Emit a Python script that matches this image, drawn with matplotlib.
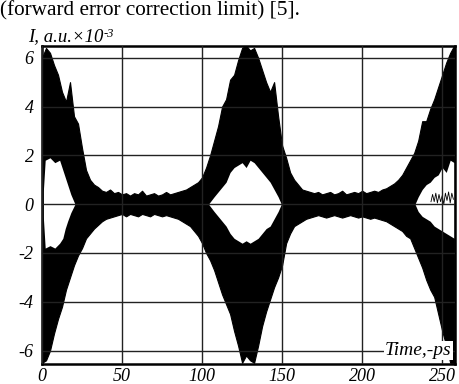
import matplotlib
matplotlib.use("Agg")
import matplotlib.pyplot as plt

plt.rcParams['axes.unicode_minus'] = False

time_ps = [0, 2.5, 5, 7.5, 10, 12.5, 15, 17.5, 20, 22.5, 25, 27.5, 30, 32.5, 35, 37.5,
           40, 42.5, 45, 47.5, 50, 52.5, 55, 57.5, 60, 62.5, 65, 67.5, 70, 72.5, 75, 77.5,
           80, 82.5, 85, 87.5, 90, 92.5, 95, 97.5, 100, 102.5, 105, 107.5, 110, 112.5, 115, 117.5,
           120, 122.5, 125, 127.5, 130, 132.5, 135, 137.5, 140, 142.5, 145, 147.5, 150, 152.5, 155, 157.5,
           160, 162.5, 165, 167.5, 170, 172.5, 175, 177.5, 180, 182.5, 185, 187.5, 190, 192.5, 195, 197.5,
           200, 202.5, 205, 207.5, 210, 212.5, 215, 217.5, 220, 222.5, 225, 227.5, 230, 232.5, 235, 237.5,
           240, 242.5, 245, 247.5, 250, 252.5, 255, 257.5]

upper_env = [6.0, 6.4, 6.2, 5.7, 5.3, 4.6, 4.2, 5.0, 3.6, 3.3, 2.3, 1.4, 1.0, 0.8, 0.7, 0.55,
             0.5, 0.6, 0.45, 0.5, 0.4, 0.45, 0.35, 0.45, 0.4, 0.55, 0.35, 0.4, 0.45, 0.35, 0.4, 0.5,
             0.4, 0.45, 0.5, 0.55, 0.6, 0.7, 0.8, 0.9, 1.1, 1.5, 2.0, 2.6, 3.2, 4.0, 4.3, 5.1,
             5.3, 5.9, 6.4, 6.5, 6.3, 6.4, 6.0, 5.5, 5.0, 4.6, 5.0, 3.6, 2.4, 1.9, 1.3, 1.0,
             0.8, 0.6, 0.55, 0.5, 0.45, 0.5, 0.4, 0.45, 0.5, 0.4, 0.45, 0.55, 0.4, 0.45, 0.5, 0.45,
             0.55, 0.45, 0.5, 0.55, 0.5, 0.6, 0.65, 0.75, 0.85, 1.0, 1.2, 1.5, 1.8, 2.1, 2.6, 3.4,
             3.4, 3.9, 4.3, 4.8, 5.3, 5.8, 6.2, 6.5]

lower_env = [-6.5, -6.4, -6.0, -5.3, -4.7, -4.2, -3.5, -3.0, -2.5, -2.1, -1.8, -1.4, -1.2, -1.0, -0.85, -0.7,
             -0.6, -0.55, -0.5, -0.45, -0.4, -0.5, -0.4, -0.45, -0.5, -0.4, -0.45, -0.5, -0.4, -0.45, -0.5, -0.45,
             -0.5, -0.55, -0.6, -0.7, -0.8, -0.9, -1.1, -1.3, -1.6, -2.0, -2.3, -2.7, -3.2, -3.7, -4.1, -4.5,
             -5.2, -5.8, -6.5, -6.2, -6.4, -6.5, -5.8, -5.0, -4.4, -3.9, -3.4, -3.0, -2.5, -1.6, -1.2, -0.9,
             -0.8, -0.7, -0.6, -0.55, -0.5, -0.45, -0.5, -0.55, -0.5, -0.45, -0.5, -0.55, -0.5, -0.45, -0.5, -0.55,
             -0.5, -0.55, -0.6, -0.55, -0.6, -0.65, -0.7, -0.8, -0.9, -1.0, -1.1, -1.3, -1.4, -1.8, -2.2, -2.6,
             -3.1, -3.5, -3.8, -4.5, -5.2, -5.8, -6.5, -6.5]

# open (white) regions between the two crossing bands
hole1_t = [0.8, 2, 5, 8, 11, 13, 14.5, 16, 18, 20.6]
hole1_top = [0.5, 1.8, 1.9, 1.7, 1.8, 1.4, 1.1, 0.8, 0.4, 0.0]
hole1_bot = [-0.5, -1.8, -1.7, -1.8, -1.6, -1.4, -1.0, -0.7, -0.35, 0.0]

hole2_t = [104, 107.5, 110, 112.5, 115, 117.5, 120, 122.5, 125, 127.5, 130, 132.5, 135, 137.5, 140, 142.5, 145, 147.5, 149.5]
hole2_top = [0, 0.3, 0.5, 0.7, 0.9, 1.3, 1.5, 1.6, 1.7, 1.5, 1.8, 1.7, 1.5, 1.3, 1.1, 0.9, 0.6, 0.3, 0]
hole2_bot = [0, -0.3, -0.5, -0.7, -0.9, -1.2, -1.4, -1.5, -1.6, -1.5, -1.6, -1.5, -1.4, -1.2, -1.0, -0.9, -0.6, -0.3, 0]

hole3_t = [233, 235, 237.5, 240, 242.5, 245, 247.5, 250, 252.5, 255, 257.5]
hole3_top = [0, 0.3, 0.6, 0.8, 0.9, 1.1, 1.2, 1.5, 1.3, 1.8, 1.7]
hole3_bot = [0, -0.3, -0.5, -0.6, -0.7, -0.9, -1.0, -1.1, -1.2, -1.3, -1.4]

# small residual ripple visible inside the right opening
ripple_t = [243, 244, 245, 246, 247, 248, 249, 250, 251, 252, 253, 254, 255, 256, 257]
ripple_v = [0.1, 0.4, 0.1, 0.45, 0.05, 0.4, 0.1, 0.35, 0.0, 0.45, 0.15, 0.5, 0.05, 0.45, 0.2]

x_ticks = [0, 50, 100, 150, 200, 250]
y_ticks = [-6, -4, -2, 0, 2, 4, 6]

fig = plt.figure(figsize=(4.6, 3.84), dpi=100)
ax = fig.add_axes([42 / 460, 1 - 364 / 384, 413 / 460, 318 / 384])

ax.fill_between(time_ps, lower_env, upper_env, color='black', lw=0.8)
for ht, htop, hbot in [(hole1_t, hole1_top, hole1_bot),
                       (hole2_t, hole2_top, hole2_bot),
                       (hole3_t, hole3_top, hole3_bot)]:
    ax.fill_between(ht, hbot, htop, color='white', lw=0)
ax.plot(ripple_t, ripple_v, color='black', lw=0.6)

ax.set_xlim(0, 258)
ax.set_ylim(-6.55, 6.48)
ax.set_xticks(x_ticks)
ax.set_yticks(y_ticks)
ax.set_axisbelow(False)
ax.grid(True, color='#222222', lw=1.0)

tick_font = dict(family='Liberation Serif', style='italic', size=13)
ax.set_xticklabels([str(v) for v in x_ticks], **tick_font)
ax.set_yticklabels([str(v) for v in y_ticks], **tick_font)
ax.tick_params(axis='x', length=0, pad=3)
ax.tick_params(axis='y', length=0, pad=6)
for s in ax.spines.values():
    s.set_linewidth(1.8)

ax.text(256, -6.0, 'Time,-ps', ha='right', va='center', family='Liberation Serif',
        style='italic', size=14, zorder=5,
        bbox=dict(facecolor='white', edgecolor='none', pad=0.5))

# y-axis caption with a raised exponent
ylab = fig.text(28 / 460, 1 - 41 / 384, 'I, a.u.×10', family='Liberation Serif',
                style='italic', size=13.5, va='baseline', ha='left')
ax.annotate('-3', xy=(1.0, 1.0), xycoords=ylab, ha='left', va='top',
            family='Liberation Serif', style='italic', size=9, annotation_clip=False)

fig.text(0.0, 1 - 11 / 384, '(forward error correction limit) [5].',
         family='Liberation Serif', size=15.3, va='center', ha='left')

fig.savefig('out.png', dpi=100)
